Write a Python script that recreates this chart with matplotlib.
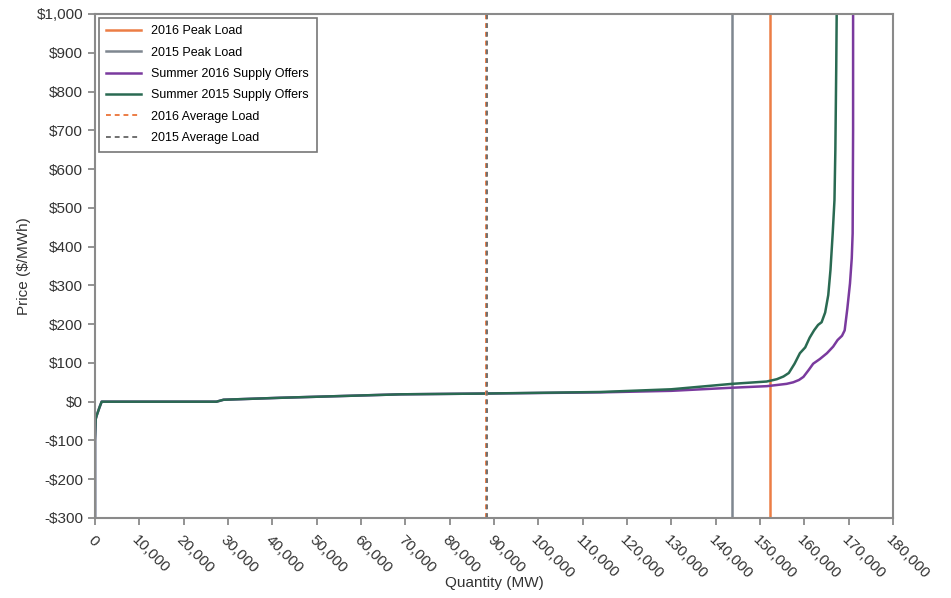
import numpy as np
import matplotlib.pyplot as plt
from matplotlib.ticker import FuncFormatter, MultipleLocator

plt.rcParams['font.family'] = ['Liberation Sans', 'DejaVu Sans']

# -------------------------
# Data
# -------------------------
# Summer 2016 supply offers: quantity (MW) and price ($/MWh)
q_2016 = [0, 0, 150, 400, 1000, 1500, 27400, 29000, 41700, 69000, 88000,
          114000, 130000, 143700, 151500, 153800, 156000, 157500, 158800,
          159800, 161000, 162000, 163500, 165100, 166500, 167500, 168500,
          169100, 169700, 170300, 170700, 170900, 171000, 171000]
p_2016 = [-300, -100, -45, -35, -15, 0, 0, 5, 10, 19, 21,
          24, 28, 36, 40, 43, 46, 50, 56,
          64, 82, 98, 110, 125, 142, 159, 170,
          184, 240, 305, 370, 434, 700, 1000]

# Summer 2015 supply offers
q_2015 = [0, 0, 150, 400, 1000, 1500, 27400, 29000, 41700, 69000, 88000,
          114000, 130000, 143700, 151500, 152300, 153800, 155300, 156500,
          157800, 159000, 160200, 161200, 162200, 163100, 163900, 164700,
          165400, 165900, 166400, 166800, 167000, 167200, 167300]
p_2015 = [-300, -100, -45, -35, -15, 0, 0, 5, 10, 19, 21,
          25, 32, 46, 52, 54, 58, 65, 74,
          98, 125, 140, 165, 184, 198, 205, 230,
          275, 340, 434, 520, 650, 863, 1000]

# Load markers (MW)
peak_2016 = 152300
peak_2015 = 143700
avg_2016 = 88300
avg_2015 = 88400

# -------------------------
# Plot
# -------------------------
fig = plt.figure(figsize=(9.51, 5.98), dpi=100)
ax = fig.add_axes([0.0999, 0.1338, 0.8391, 0.8428])

ax.axvline(peak_2016, color='#EC7D45', lw=1.8, label='2016 Peak Load')
ax.axvline(peak_2015, color='#7F8790', lw=1.8, label='2015 Peak Load')
ax.plot(q_2016, p_2016, color='#7A3A9E', lw=1.8, label='Summer 2016 Supply Offers')
ax.plot(q_2015, p_2015, color='#2A6A52', lw=1.8, label='Summer 2015 Supply Offers')
ax.axvline(avg_2016, color='#EC7D45', lw=1.4, ls=(0, (2.5, 2)), label='2016 Average Load')
ax.axvline(avg_2015, color='#707070', lw=1.4, ls=(0, (2.5, 2)), label='2015 Average Load')

ax.set_xlim(0, 180000)
ax.set_ylim(-300, 1000)
ax.xaxis.set_major_locator(MultipleLocator(10000))
ax.yaxis.set_major_locator(MultipleLocator(100))
ax.xaxis.set_major_formatter(FuncFormatter(lambda v, p: f"{int(v):,}"))
ax.yaxis.set_major_formatter(
    FuncFormatter(lambda v, p: f"-${abs(int(v)):,}" if v < 0 else f"${int(v):,}"))

for lab in ax.get_xticklabels():
    lab.set_rotation(-45)
    lab.set_ha('left')
    lab.set_va('top')
    lab.set_rotation_mode('anchor')

ax.tick_params(axis='both', labelsize=11, color='#808080', length=5,
               width=1.2, labelcolor='#333333')
ax.tick_params(axis='x', pad=6)
for s in ax.spines.values():
    s.set_color('#8A8A8A')
    s.set_linewidth(1.5)

ax.set_xlabel("Quantity (MW)", fontsize=11, color='#333333', va='center')
ax.xaxis.set_label_coords(0.5, -0.129)
ax.set_ylabel("Price ($/MWh)", fontsize=11, color='#333333', labelpad=4)

leg = ax.legend(loc='upper left', fontsize=9, frameon=True, fancybox=False,
                edgecolor='#555555', handlelength=2.8, borderaxespad=0.3,
                labelspacing=0.75, borderpad=0.6)
leg.get_frame().set_linewidth(1.2)

fig.savefig('out.png', dpi=100)
